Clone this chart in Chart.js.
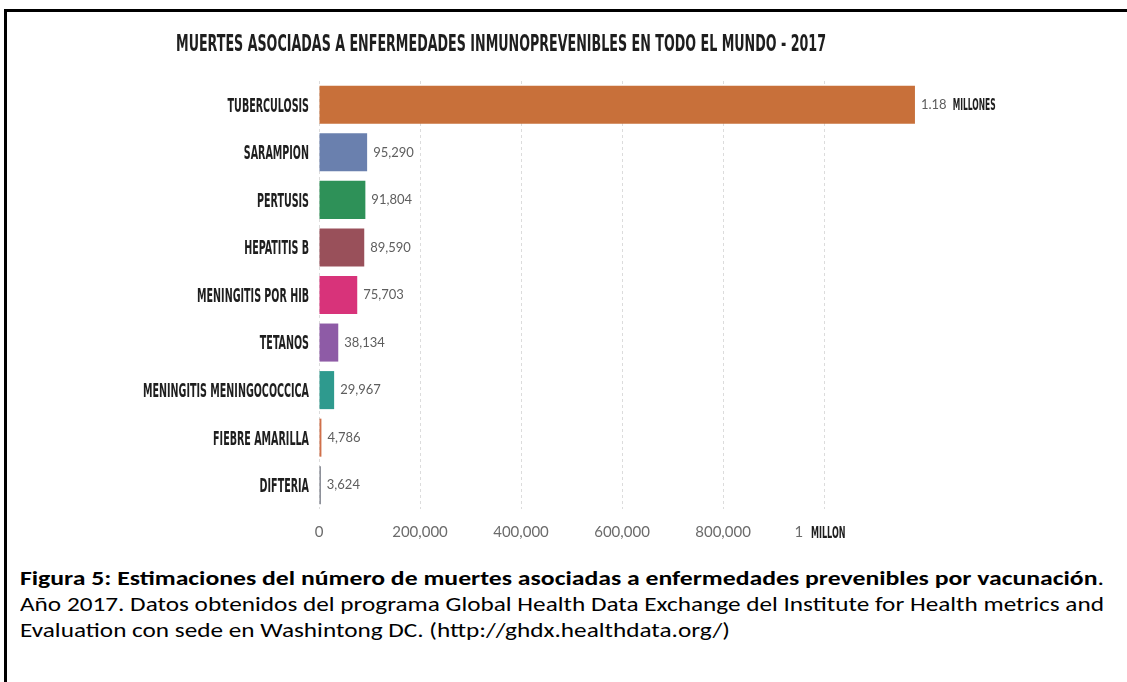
<!DOCTYPE html>
<html><head><meta charset="utf-8">
<script src="https://cdn.jsdelivr.net/npm/chart.js@4.4.0/dist/chart.umd.min.js"></script>
<style>
html,body{margin:0;padding:0;background:#fff;}
body{width:1127px;height:682px;position:relative;overflow:hidden;}
#frame{position:absolute;left:4px;top:9px;width:1200px;height:800px;border-top:3px solid #000;border-left:3px solid #000;box-sizing:border-box;}
#wrap{position:absolute;left:0;top:0;width:1127px;height:550px;}
.t{position:absolute;white-space:nowrap;line-height:1;transform-origin:0 0;}
#title{left:176px;top:32px;font-weight:bold;font-size:23px;font-family:'Liberation Sans Narrow','Arial Narrow','DejaVu Sans Condensed',sans-serif;color:#1e1e1e;}
.cap{left:20px;font-family:Carlito,'Liberation Sans',Arial,sans-serif;font-size:21px;color:#000;}
</style></head><body>
<div id="frame"></div>
<div id="wrap"><canvas id="c"></canvas></div>
<div id="title" class="t">MUERTES ASOCIADAS A ENFERMEDADES INMUNOPREVENIBLES EN TODO EL MUNDO - 2017</div>
<div id="cap1" class="t cap" style="top:568px"><b>Figura 5: Estimaciones del número de muertes asociadas a enfermedades prevenibles por vacunación</b>.</div>
<div id="cap2" class="t cap" style="top:594px">Año 2017. Datos obtenidos del programa Global Health Data Exchange del Institute for Health metrics and</div>
<div id="cap3" class="t cap" style="top:620px">Evaluation con sede en Washintong DC. (http://ghdx.healthdata.org/)</div>
<script>
const categories = ['TUBERCULOSIS','SARAMPION','PERTUSIS','HEPATITIS B','MENINGITIS POR HIB','TETANOS','MENINGITIS MENINGOCOCCICA','FIEBRE AMARILLA','DIFTERIA'];
const deaths = [1180000, 95290, 91804, 89590, 75703, 38134, 29967, 4786, 3624];
const valueLabels = ['1.18','95,290','91,804','89,590','75,703','38,134','29,967','4,786','3,624'];
const valueUnits = ['MILLONES','','','','','','','',''];
const barColors = ['#C8703A','#6A80AE','#2E9158','#99505A','#D8337A','#8E5BA6','#2E9A8E','#D0704A','#777A85'];
const tickValues = [0, 200000, 400000, 600000, 800000, 1000000];
const tickLabels = ['0','200,000','400,000','600,000','800,000','1'];
const tickUnits = ['','','','','','MILLON'];

// fit title and caption text widths
function sx(el, k) { el.style.transform = 'scaleX(' + k + ')'; }
const titleEl = document.getElementById('title');
sx(titleEl, 650 / titleEl.getBoundingClientRect().width);
const c1 = document.getElementById('cap1');
sx(c1, 1084 / c1.getBoundingClientRect().width);
const c2 = document.getElementById('cap2');
const k2 = 1084 / c2.getBoundingClientRect().width;
sx(c2, k2);
sx(document.getElementById('cap3'), k2);

const CONDENSED = "'Liberation Sans Narrow','Arial Narrow','DejaVu Sans Condensed',sans-serif";
const THIN = "Lato, 'Open Sans', sans-serif";

function condensedText(ctx, text, x, y, size, align, color) {
  ctx.save();
  ctx.font = 'bold ' + size + 'px ' + CONDENSED;
  const ref = ctx.measureText('MENINGITIS MENINGOCOCCICA').width;
  const k = (166 * size / 19) / ref;
  ctx.fillStyle = color;
  ctx.textBaseline = 'alphabetic';
  ctx.textAlign = align;
  ctx.translate(x, y + size * 0.36);
  ctx.scale(k, 1);
  ctx.fillText(text, 0, 0);
  const w = ctx.measureText(text).width * k;
  ctx.restore();
  return w;
}

const labelPlugin = {
  id: 'labels',
  afterDraw(chart) {
    const ctx = chart.ctx;
    const ys = chart.scales.y;
    const xs = chart.scales.x;
    categories.forEach((c, i) => {
      const y = ys.getPixelForTick(i);
      condensedText(ctx, c, chart.chartArea.left - 10, y, 19, 'right', '#1e1e1e');
    });
    const meta = chart.getDatasetMeta(0);
    meta.data.forEach((bar, i) => {
      ctx.save();
      ctx.font = '13px ' + THIN;
      ctx.fillStyle = '#5e5e5e';
      ctx.textBaseline = 'middle';
      ctx.textAlign = 'left';
      const x0 = bar.x + 6;
      ctx.fillText(valueLabels[i], x0, bar.y);
      const w = ctx.measureText(valueLabels[i]).width;
      ctx.restore();
      if (valueUnits[i]) condensedText(ctx, valueUnits[i], x0 + w + 6, bar.y, 15, 'left', '#1e1e1e');
    });
    tickValues.forEach((v, i) => {
      if (!tickUnits[i]) return;
      const px = xs.getPixelForValue(v);
      const y = chart.chartArea.bottom + 23;
      ctx.save();
      ctx.font = '15px ' + THIN;
      const wNum = ctx.measureText(tickLabels[i] + '  ').width;
      ctx.restore();
      ctx.save();
      ctx.font = 'bold 16px ' + CONDENSED;
      const ref = ctx.measureText('MENINGITIS MENINGOCOCCICA').width;
      const k = (166 * 16 / 19) / ref;
      const wUnit = ctx.measureText(tickUnits[i]).width * k;
      ctx.restore();
      const start = px - (wNum + wUnit) / 2 - 4;
      ctx.save();
      ctx.font = '15px ' + THIN;
      ctx.fillStyle = '#6b6b6b';
      ctx.textBaseline = 'middle';
      ctx.textAlign = 'left';
      ctx.fillText(tickLabels[i], start, y);
      ctx.restore();
      condensedText(ctx, tickUnits[i], start + wNum, y, 16, 'left', '#1e1e1e');
    });
  }
};

new Chart(document.getElementById('c'), {
  type: 'bar',
  data: {
    labels: categories,
    datasets: [{
      data: deaths,
      backgroundColor: barColors,
      borderWidth: 0,
      barPercentage: 0.8,
      categoryPercentage: 1.0
    }]
  },
  options: {
    indexAxis: 'y',
    responsive: true,
    maintainAspectRatio: false,
    devicePixelRatio: 1,
    animation: false,
    layout: { padding: { top: 81, right: 207, left: 0, bottom: 0 } },
    plugins: { legend: { display: false }, tooltip: { enabled: false }, title: { display: false } },
    scales: {
      x: {
        type: 'linear',
        min: 0,
        max: 1190000,
        afterBuildTicks(scale) { scale.ticks = tickValues.map(v => ({ value: v })); },
        afterFit(scale) { scale.height = 41; },
        ticks: {
          includeBounds: false,
          padding: 14,
          color: '#6b6b6b',
          font: { family: THIN, size: 15 },
          callback: (v, i) => tickUnits[i] ? '' : tickLabels[i]
        },
        grid: { color: '#dcdcdc', drawTicks: false, lineWidth: 1 },
        border: { display: false, dash: [3, 3] }
      },
      y: {
        type: 'category',
        afterFit(scale) { scale.width = 319; },
        ticks: { display: false },
        grid: { display: false, drawTicks: false },
        border: { display: false }
      }
    }
  },
  plugins: [labelPlugin]
});
</script>
</body></html>
